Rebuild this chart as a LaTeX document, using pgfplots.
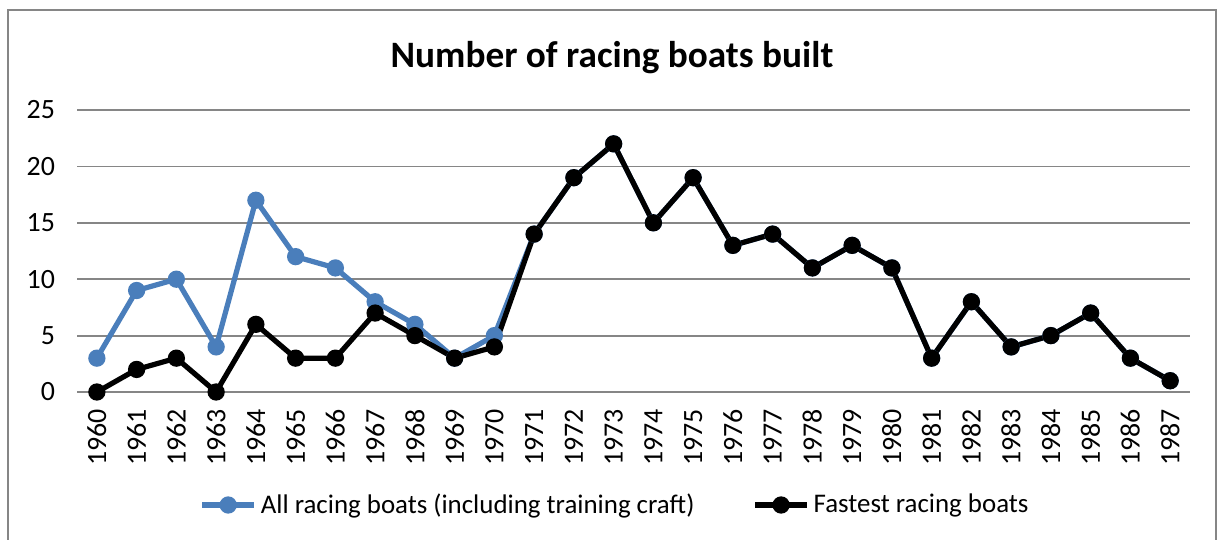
\documentclass[border=0pt]{standalone}
\usepackage{pgfplots}
\pgfplotsset{compat=1.18}
\usepackage{fontspec}
\setmainfont{Carlito}
\definecolor{excelblue}{RGB}{74,126,187}
\definecolor{gridgray}{RGB}{134,134,134}
\begin{document}
\begin{tikzpicture}[x=1bp,y=1bp]
\useasboundingbox (0,0) rectangle (612,269.5);
\draw[gridgray, line width=1bp] (4,-10) -- (4,264.5) -- (608,264.5) -- (608,-10);
\node[font=\fontsize{18.7}{22}\selectfont\bfseries] at (306,240.5) {Number of racing boats built};
\begin{axis}[
  at={(38.5bp,73.5bp)}, anchor=south west, scale only axis,
  width=556.5bp, height=141bp,
  xmin=1959.5, xmax=1987.5, ymin=0, ymax=25,
  xtick={1960,...,1987}, ytick={0,5,...,25},
  /pgf/number format/set thousands separator={},
  /pgf/number format/assume math mode=true,
  axis line style={draw=none}, major tick length=0pt,
  ymajorgrids, grid style={gridgray, line width=0.9bp},
  ticklabel style={font=\fontsize{14}{16}\selectfont},
  xticklabel style={rotate=90, anchor=east, inner sep=0pt},
  xticklabel shift={8.5bp},
  yticklabel style={xshift=-7.5bp},
  clip=false,
  legend style={at={(0.4843,-0.4007)}, anchor=center, draw=none,
    font=\fontsize{13.5}{15}\selectfont, legend columns=2,
    /tikz/every even column/.append style={column sep=27bp}},
  legend image code/.code={\draw[mark repeat=2,mark phase=2,#1] plot coordinates {(0bp,0bp) (13bp,0bp) (26bp,0bp)};},
]
\addplot[excelblue, line width=2.6bp, mark=*, mark size=3bp, mark options={solid, fill=excelblue}] coordinates {
(1960,3)(1961,9)(1962,10)(1963,4)(1964,17)(1965,12)(1966,11)(1967,8)(1968,6)(1969,3)(1970,5)(1971,14)
(1972,19)(1973,22)(1974,15)(1975,19)(1976,13)(1977,14)(1978,11)(1979,13)(1980,11)(1981,3)(1982,8)(1983,4)(1984,5)(1985,7)(1986,3)(1987,1)};
\addlegendentry{All racing boats (including training craft)}
\addplot[black, line width=2.6bp, mark=*, mark size=3bp, mark options={solid, fill=black}] coordinates {
(1960,0)(1961,2)(1962,3)(1963,0)(1964,6)(1965,3)(1966,3)(1967,7)(1968,5)(1969,3)(1970,4)(1971,14)
(1972,19)(1973,22)(1974,15)(1975,19)(1976,13)(1977,14)(1978,11)(1979,13)(1980,11)(1981,3)(1982,8)(1983,4)(1984,5)(1985,7)(1986,3)(1987,1)};
\addlegendentry{Fastest racing boats}
\end{axis}
\end{tikzpicture}
\end{document}
